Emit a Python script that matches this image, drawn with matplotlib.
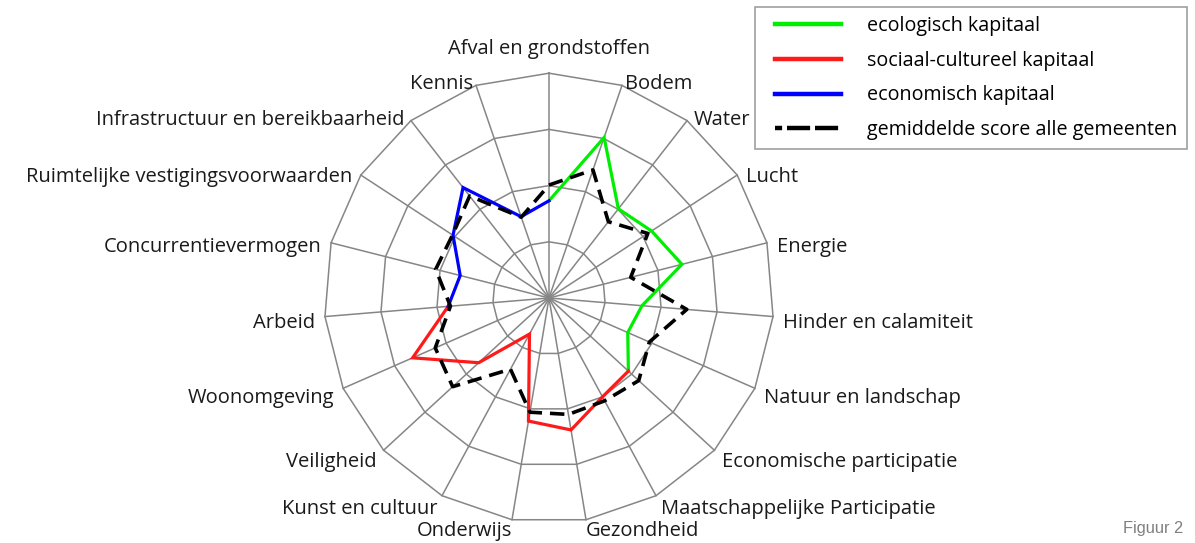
import numpy as np
import matplotlib
matplotlib.use('Agg')
import matplotlib.pyplot as plt
from matplotlib.lines import Line2D
from matplotlib.legend_handler import HandlerLine2D

# Categories (clockwise from the top)
categories = [
    'Afval en grondstoffen', 'Bodem', 'Water', 'Lucht', 'Energie',
    'Hinder en calamiteit', 'Natuur en landschap', 'Economische participatie',
    'Maatschappelijke Participatie', 'Gezondheid', 'Onderwijs',
    'Kunst en cultuur', 'Veiligheid', 'Woonomgeving', 'Arbeid',
    'Concurrentievermogen', 'Ruimtelijke vestigingsvoorwaarden',
    'Infrastructuur en bereikbaarheid', 'Kennis',
]

# Scores per category (None = not part of this capital)
ecologisch = [1.73, 3.02, 2.01, 2.18, 2.44, 1.66, 1.53, 1.92,
              None, None, None, None, None, None, None, None, None, None, None]
sociaal = [None, None, None, None, None, None, None, 1.92,
           2.00, 2.38, 2.22, 0.73, 1.70, 2.65, 1.80, None, None, None, None]
economisch = [1.73, None, None, None, None, None, None, None,
              None, None, None, None, None, None, 1.80, 1.63, 2.04, 2.49, 1.53]
gemiddelde = [2.01, 2.41, 1.72, 2.10, 1.50, 2.46, 1.95, 2.17,
              2.08, 2.10, 2.06, 1.44, 2.33, 2.21, 1.76, 2.08, 2.05, 2.30, 1.52]

series_names = ['ecologisch kapitaal', 'sociaal-cultureel kapitaal',
                'economisch kapitaal', 'gemiddelde score alle gemeenten']

r_max = 4
n = len(categories)
theta = 2 * np.pi * np.arange(n) / n

# figure: 1195 x 543 px, radar centre at (549, 298) px, 56.2 px per unit
W, H = 1195, 543
cx, cy, scale = 549, 298, 56.2
fig = plt.figure(figsize=(W / 100, H / 100), dpi=100)
ax = fig.add_axes([0, 0, 1, 1])
ax.set_xlim(-cx / scale, (W - cx) / scale)
ax.set_ylim(-(H - cy) / scale, cy / scale)
ax.axis('off')


def to_xy(vals):
    v = np.array([np.nan if a is None else a for a in vals], dtype=float)
    v = np.append(v, v[0])
    t = np.append(theta, theta[0])
    return v * np.sin(t), v * np.cos(t)


# polygon grid
grid_col = '#868686'
for k in range(1, r_max + 1):
    gx, gy = to_xy([k] * n)
    ax.plot(gx, gy, color=grid_col, lw=1.1, zorder=1)
for t in theta:
    ax.plot([0, r_max * np.sin(t)], [0, r_max * np.cos(t)],
            color=grid_col, lw=1.1, zorder=1)

# category labels
plt.rcParams['font.family'] = ['Open Sans', 'DejaVu Sans']
for lab, t in zip(categories, theta):
    s, c = np.sin(t), np.cos(t)
    vx, vy = r_max * s, r_max * c
    if c > 0.95:
        ha, va, off = 'center', 'bottom', (0, 14)
    elif c < -0.95:
        ha = 'left' if s > 0 else 'right'
        va, off = 'top', (0, -1)
    else:
        ha = 'left' if s > 0 else 'right'
        va, off = 'center', (10 * s, 8 * c - 6)
    ax.annotate(lab, xy=(vx, vy), xytext=off, textcoords='offset pixels',
                ha=ha, va=va, fontsize=14.5, color='#1a1a1a')

# data series
colors = ['#00ee00', '#ff1a1a', '#0000ff']
for vals, col in zip([ecologisch, sociaal, economisch], colors):
    x, y = to_xy(vals)
    ax.plot(x, y, color=col, lw=2.3, zorder=3, solid_joinstyle='miter')
x, y = to_xy(gemiddelde)
ax.plot(x, y, color='black', lw=2.6, dashes=(4, 2.2), zorder=4)

# legend
handles = [Line2D([], [], color=c, lw=3.2) for c in colors]
handles.append(Line2D([], [], color='black', lw=3.2,
                      linestyle=(3.6, (5.2, 1.1))))
leg = fig.legend(handles, series_names, loc='upper left',
                 bbox_to_anchor=(755 / W, 1 - 7 / H), borderaxespad=0,
                 fontsize=14.2, frameon=True, fancybox=False,
                 edgecolor='#a0a0a0', framealpha=1, borderpad=0.45,
                 handlelength=3.9, handletextpad=1.35, labelspacing=0.75,
                 handler_map={Line2D: HandlerLine2D(xpad=0.55)})
leg.get_frame().set_linewidth(1.2)

fig.text(1123 / W, 1 - 528 / H, 'Figuur 2', ha='left', va='center',
         fontsize=11.8, color='#7f7f7f', family='Liberation Sans')

fig.savefig('out.png', dpi=100)
